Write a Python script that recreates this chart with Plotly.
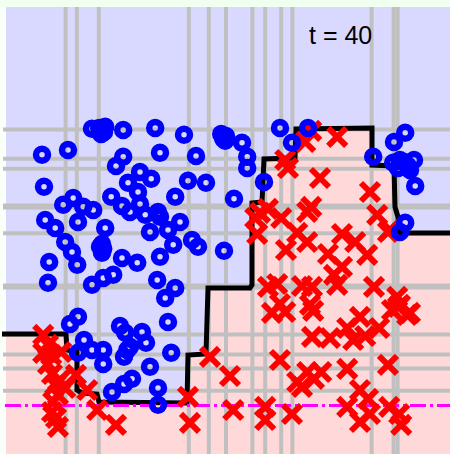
import plotly.graph_objects as go

# Feature-space extent of the classifier panel
X_MIN, X_MAX = 0.0, 11.1
Y_MIN, Y_MAX = 0.0, 11.175

# Thresholds of the decision stumps picked so far
x_thresholds = [1.49, 1.77, 2.32, 4.57, 5.07, 5.50, 6.16, 6.48, 6.88, 7.16, 9.14, 9.69, 9.79]
y_thresholds = [8.11, 7.38, 7.13, 6.21, 6.16, 5.52, 4.21, 4.16, 2.99, 2.49, 2.14, 1.58]

# Decision boundary of the boosted ensemble (left to right)
boundary_x = [-0.10, 1.50, 1.525, 1.775, 1.775, 1.90, 2.275, 2.325, 4.525, 4.55, 5.00, 5.05,
              6.10, 6.15, 6.15, 6.40, 6.45, 7.225, 7.25, 9.15, 9.15, 9.70, 9.725, 9.80,
              9.825, 11.10]
boundary_y = [3.00, 3.00, 2.60, 2.55, 1.60, 1.525, 1.50, 1.30, 1.275, 2.475, 2.50, 4.15,
              4.15, 4.225, 6.275, 6.30, 7.375, 7.40, 8.125, 8.15, 7.225, 7.20, 6.175, 5.925,
              5.525, 5.525]

# Class -1 samples
blue_x = [0.90, 1.55, 2.15, 2.33, 2.45, 2.93, 3.73, 4.45, 5.38, 5.48, 5.90, 6.03, 6.03,
          2.93, 2.75, 3.35, 3.63, 3.85, 4.75, 4.55, 5.00, 3.05, 0.95, 3.30, 4.23, 2.63,
          5.70, 1.68, 1.43, 1.93, 2.18, 2.90, 3.10, 3.35, 3.48, 3.80, 3.85, 4.35, 4.05,
          3.60, 4.18, 4.65, 4.80, 3.85, 5.45, 2.48, 2.40, 2.40, 1.80, 1.23, 0.98, 1.48,
          1.65, 1.78, 1.08, 1.05, 2.15, 2.43, 2.68, 2.90, 3.28, 3.78, 4.23, 3.98, 6.85,
          7.55, 7.15, 6.45, 9.18, 9.70, 9.98, 9.68, 9.85, 10.05, 10.20, 10.23, 9.98, 9.85,
          1.60, 1.80, 1.95, 2.15, 2.43, 2.43, 1.80, 2.85, 2.98, 3.40, 3.50, 3.03, 2.95,
          3.10, 3.60, 4.13, 2.65, 2.95, 3.15, 3.80, 3.80, 4.05,
          2.38, 2.48, 5.43, 5.50, 2.43, 2.35, 9.80, 9.95, 10.10]
blue_y = [7.48, 7.60, 8.13, 8.15, 8.05, 8.10, 8.15, 7.98, 8.00, 7.83, 7.78, 7.43, 7.15,
          7.43, 7.20, 7.05, 6.88, 7.53, 7.45, 6.83, 6.78, 6.78, 6.68, 6.55, 6.43, 6.43,
          6.38, 6.40, 6.23, 6.18, 6.10, 6.20, 6.05, 6.25, 5.98, 6.05, 5.93, 5.80, 5.60,
          5.55, 5.23, 5.35, 5.18, 4.93, 5.08, 5.65, 5.25, 5.03, 5.80, 5.65, 5.85, 5.30,
          5.05, 4.73, 4.80, 4.28, 4.23, 4.40, 4.48, 4.90, 4.78, 4.35, 4.15, 3.90, 8.15,
          8.15, 7.78, 6.80, 7.43, 7.80, 8.03, 7.28, 7.35, 7.20, 7.35, 6.70, 5.78, 5.55,
          3.25, 3.43, 2.85, 2.60, 2.60, 2.25, 2.53, 3.20, 3.03, 3.05, 2.78, 2.60, 2.43,
          2.68, 2.18, 2.53, 1.55, 1.75, 1.88, 1.65, 1.23, 3.30,
          8.00, 8.18, 7.88, 7.95, 5.13, 5.18, 7.15, 7.30, 7.10]

# Class +1 samples
red_x = [0.93, 0.93, 1.13, 1.38, 1.05, 1.15, 1.75, 1.48, 1.30, 1.18, 1.15, 1.30, 2.03,
         2.28, 2.75, 1.23, 1.35, 1.05, 1.25, 4.55, 4.60, 5.10, 5.60, 5.68, 6.48, 6.48,
         7.15, 6.65, 6.98, 7.68, 8.85, 9.85, 10.10, 7.65, 8.10, 8.53, 8.68, 8.98, 9.33,
         6.85, 7.28, 7.53, 7.70, 7.88, 7.40, 8.53, 9.55, 8.85, 9.05, 8.53, 8.85, 9.10,
         9.58, 9.83, 9.88, 9.78, 9.80, 10.03, 9.65, 8.40, 8.73, 9.03, 9.55, 8.05, 8.40,
         8.20, 8.28, 6.78, 6.55, 7.40, 7.65, 9.20, 6.28, 7.28, 7.53, 7.00, 6.85, 7.60,
         7.63, 8.28, 7.48, 6.98, 7.05, 7.85, 9.10, 9.28, 9.60, 7.63, 7.53, 6.55, 6.35,
         6.88, 6.23]
red_y = [2.98, 2.53, 2.48, 2.55, 2.25, 2.00, 1.98, 1.65, 1.48, 1.30, 1.05, 0.68, 1.60,
         1.10, 0.73, 1.73, 1.85, 2.73, 0.90, 1.43, 0.78, 2.43, 1.95, 1.10, 1.18, 0.85,
         1.00, 3.53, 3.55, 3.58, 3.43, 3.73, 3.53, 2.93, 2.90, 3.15, 2.85, 2.95, 3.15,
         2.35, 1.80, 2.05, 1.88, 2.05, 1.68, 2.13, 2.23, 1.60, 1.38, 1.18, 0.80, 1.00,
         1.18, 1.00, 0.73, 3.93, 3.68, 3.48, 3.60, 5.50, 5.30, 4.98, 5.55, 5.00, 4.68,
         4.48, 4.23, 4.25, 4.18, 4.20, 4.18, 4.18, 5.50, 5.53, 5.30, 5.10, 3.75, 3.73,
         8.08, 7.93, 7.80, 7.35, 7.15, 6.90, 6.55, 5.98, 5.60, 6.18, 6.05, 6.13, 6.03,
         5.90, 5.90]

reference_level = 1.21
round_label = "t = 40"

BLUE_BG = "#d9d9ff"
RED_BG = "#ffd9d9"
GREY = "#c0c0c0"

fig = go.Figure()

# Region predicted as +1: area below the boundary
fig.add_trace(go.Scatter(
    x=[X_MIN] + boundary_x[1:] + [X_MAX, X_MIN],
    y=[boundary_y[0]] + boundary_y[1:] + [Y_MIN, Y_MIN],
    mode="lines", fill="toself", fillcolor=RED_BG,
    line=dict(width=0), hoverinfo="skip", showlegend=False))

# Stump thresholds
vx, vy = [], []
for t in x_thresholds:
    vx += [t, t, None]
    vy += [Y_MIN, Y_MAX, None]
hx, hy = [], []
for t in y_thresholds:
    hx += [-0.075, X_MAX, None]
    hy += [t, t, None]
for xs, ys in ((vx, vy), (hx, hy)):
    fig.add_trace(go.Scatter(x=xs, y=ys, mode="lines",
                             line=dict(color=GREY, width=4),
                             hoverinfo="skip", showlegend=False))

# Ensemble decision boundary
fig.add_trace(go.Scatter(x=boundary_x, y=boundary_y, mode="lines",
                         line=dict(color="black", width=5),
                         hoverinfo="skip", showlegend=False))

# Reference level
fig.add_trace(go.Scatter(x=[-0.025, X_MAX], y=[reference_level, reference_level],
                         mode="lines",
                         line=dict(color="#ff00ff", width=3, dash="16px,4px,3px,4px"),
                         hoverinfo="skip", showlegend=False))

# Samples
fig.add_trace(go.Scatter(x=red_x, y=red_y, mode="markers",
                         marker=dict(symbol="x-thin", size=18, color="#ff0000",
                                     line=dict(color="#ff0000", width=6)),
                         showlegend=False))
fig.add_trace(go.Scatter(x=blue_x, y=blue_y, mode="markers",
                         marker=dict(symbol="circle-open", size=12, color="#0000ff",
                                     line=dict(color="#0000ff", width=6.5)),
                         showlegend=False))

fig.add_annotation(x=8.35, y=10.475, text=round_label, showarrow=False,
                   font=dict(family="Liberation Sans, Arial, sans-serif", size=25,
                             color="black"),
                   xanchor="center", yanchor="middle")

fig.update_layout(
    width=450, height=454,
    margin=dict(l=0, r=0, t=0, b=0),
    paper_bgcolor="#f0fff0",
    plot_bgcolor="#f0fff0",
    shapes=[
        dict(type="rect", layer="below", xref="x", yref="y",
             x0=-0.15, x1=X_MIN, y0=Y_MIN, y1=Y_MAX,
             fillcolor="#fafffa", line=dict(width=0)),
        dict(type="rect", layer="below", xref="x", yref="y",
             x0=X_MIN, x1=X_MAX, y0=Y_MIN, y1=Y_MAX,
             fillcolor=BLUE_BG, line=dict(width=0)),
    ],
    xaxis=dict(range=[-0.15, 11.1], visible=False, fixedrange=True),
    yaxis=dict(range=[0, 11.35], visible=False, fixedrange=True),
)

fig.write_html("out.html")
